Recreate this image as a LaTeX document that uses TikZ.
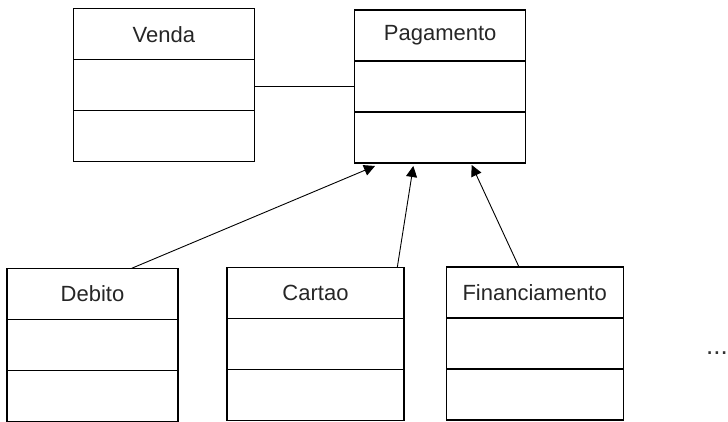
\documentclass[tikz,border=0pt]{standalone}
\usepackage{fontspec}
\setmainfont{Liberation Sans}
\usetikzlibrary{positioning}
\usetikzlibrary{arrows.meta}

\begin{document}
\begin{tikzpicture}[x=1pt,y=-1pt,->,>={Triangle[length=11pt,width=11pt]}]
			\tikzset{classbox/.style = {shape=rectangle, draw, line width=1.2pt, outer sep=0pt, minimum height=51pt, font=\fontsize{22}{26}\selectfont, text=black!85}}
			\tikzset{gen/.style = {line width=0.9pt}}
			
			\useasboundingbox (0,0) rectangle (728,422);
			
			% superclass and association
			\node[classbox, minimum width=181pt] (venda) at (163.8,34.2) {Venda};
			\node[classbox, minimum width=181pt, below=0pt of venda] (vendaattr) {};
			\node[classbox, minimum width=181pt, below=0pt of vendaattr] (vendaops) {};
			
			\node[classbox, minimum width=171pt] (pagamento) at (440.2,35.5) {Pagamento};
			\node[classbox, minimum width=171pt, below=0pt of pagamento] (pagamentoattr) {};
			\node[classbox, minimum width=171pt, below=0pt of pagamentoattr] (pagamentoops) {};
			
			\draw[-, line width=1.2pt] (pagamentoattr.west) -- (pagamentoattr.west -| vendaattr.east);
			
			% subclasses
			\node[classbox, minimum width=171pt] (debito) at (92.5,293.8) {Debito};
			\node[classbox, minimum width=171pt, below=0pt of debito] (debitoattr) {};
			\node[classbox, minimum width=171pt, below=0pt of debitoattr] (debitoops) {};
			
			\node[classbox, minimum width=177pt] (cartao) at (315.5,292.8) {Cartao};
			\node[classbox, minimum width=177pt, below=0pt of cartao] (cartaoattr) {};
			\node[classbox, minimum width=177pt, below=0pt of cartaoattr] (cartaoops) {};
			
			\node[classbox, minimum width=177pt] (financiamento) at (534.7,292.5) {Financiamento};
			\node[classbox, minimum width=177pt, below=0pt of financiamento] (financiamentoattr) {};
			\node[classbox, minimum width=177pt, below=0pt of financiamentoattr] (financiamentoops) {};
			
			\node[anchor=base west, inner sep=0pt, font=\fontsize{26}{30}\selectfont, text=black!80] (mais) at (706,354) {...};
			
			% inheritance
			\draw[gen] ([xshift=39.2pt]debito.north) -- ([xshift=-65.2pt,yshift=-3pt]pagamentoops.south);
			\draw[gen] ([xshift=81.8pt]cartao.north) -- ([xshift=-26.9pt,yshift=-3pt]pagamentoops.south);
			\draw[gen] ([xshift=-15.7pt]financiamento.north) -- ([xshift=31.5pt,yshift=-2pt]pagamentoops.south);
			
			\end{tikzpicture}
\end{document}
